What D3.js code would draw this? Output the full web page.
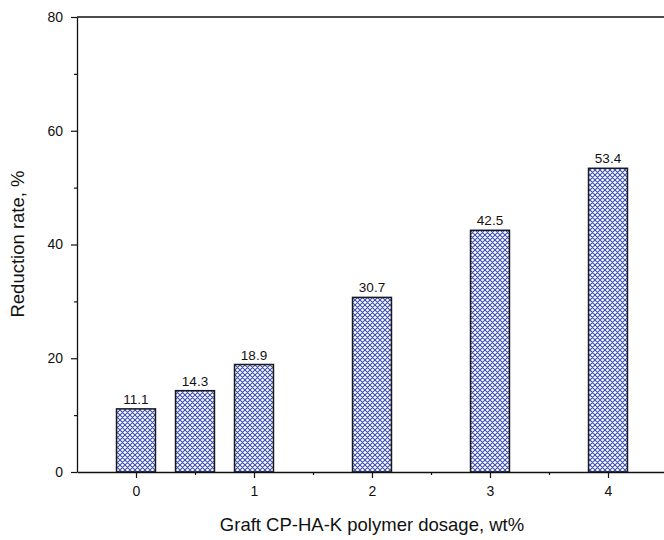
<!DOCTYPE html>
<html>
<head>
<meta charset="utf-8">
<script src="https://cdn.jsdelivr.net/npm/d3@7"></script>
<style>
  html, body { margin: 0; padding: 0; background: #fff; }
  svg { display: block; font-family: "Liberation Sans", Arial, sans-serif; }
</style>
</head>
<body>
<svg id="chart" width="664" height="540"></svg>
<script>
// Polymer dosage (wt%) and measured reduction rate (%)
const dosages = [0, 0.5, 1, 2, 3, 4];
const reductionRates = [11.1, 14.3, 18.9, 30.7, 42.5, 53.4];
const rateLabels = ["11.1", "14.3", "18.9", "30.7", "42.5", "53.4"];
const xTicks = [0, 1, 2, 3, 4];
const xMinorTicks = [0.5, 1.5, 2.5, 3.5];
const yTicks = [0, 20, 40, 60, 80];
const yMinorTicks = [10, 30, 50, 70];

const svg = d3.select("#chart");

const x = d3.scaleLinear().domain([-0.5, 4.5]).range([77, 667]);
const y = d3.scaleLinear().domain([0, 80]).range([472, 17]);
const barWidth = 0.33; // in dosage units

// Blue cross-hatch fill
const defs = svg.append("defs");
const pat = defs.append("pattern")
  .attr("id", "hatch")
  .attr("patternUnits", "userSpaceOnUse")
  .attr("width", 5).attr("height", 5);
pat.append("rect").attr("width", 5).attr("height", 5).attr("fill", "#ffffff");
pat.append("path")
  .attr("d", "M-1,1 L1,-1 M0,5 L5,0 M4,6 L6,4 M-1,4 L1,6 M0,0 L5,5 M4,-1 L6,1")
  .attr("stroke", "#3b4fb2").attr("stroke-width", 1.1);

// Bars
svg.append("g").selectAll("rect")
  .data(dosages)
  .join("rect")
  .attr("x", (d) => x(d - barWidth / 2))
  .attr("y", (d, i) => y(reductionRates[i]))
  .attr("width", x(barWidth) - x(0))
  .attr("height", (d, i) => y(0) - y(reductionRates[i]))
  .attr("fill", "url(#hatch)")
  .attr("stroke", "#1a1a1a")
  .attr("stroke-width", 1.5);

// Value labels above bars
svg.append("g").selectAll("text")
  .data(dosages)
  .join("text")
  .attr("x", (d) => x(d))
  .attr("y", (d, i) => y(reductionRates[i]) - 5)
  .attr("text-anchor", "middle")
  .attr("font-size", 13.5)
  .attr("fill", "#111")
  .text((d, i) => rateLabels[i]);

// Top frame line
svg.append("line")
  .attr("x1", x(-0.5)).attr("x2", 664)
  .attr("y1", y(80)).attr("y2", y(80))
  .attr("stroke", "#111").attr("stroke-width", 1.3);

// X axis
svg.append("g").attr("transform", `translate(0,${y(0)})`)
  .call(d3.axisBottom(x).tickValues(xTicks).tickFormat(d3.format("d")).tickSize(6).tickPadding(8).tickSizeOuter(0));
svg.append("g").attr("transform", `translate(0,${y(0)})`)
  .call(d3.axisBottom(x).tickValues(xMinorTicks).tickFormat("").tickSize(3).tickSizeOuter(0))
  .select(".domain").remove();

// Y axis
svg.append("g").attr("transform", `translate(${x(-0.5)},0)`)
  .call(d3.axisLeft(y).tickValues(yTicks).tickSize(6).tickPadding(8).tickSizeOuter(0));
svg.append("g").attr("transform", `translate(${x(-0.5)},0)`)
  .call(d3.axisLeft(y).tickValues(yMinorTicks).tickFormat("").tickSize(3).tickSizeOuter(0))
  .select(".domain").remove();

svg.selectAll(".domain").attr("stroke", "#111").attr("stroke-width", 1.3);
svg.selectAll(".tick line").attr("stroke", "#111").attr("stroke-width", 1.2);
svg.selectAll(".tick text")
  .attr("fill", "#111")
  .style("font-size", "14px")
  .style("font-family", "Liberation Sans, Arial, sans-serif");

// Axis titles
svg.append("text")
  .attr("x", 372).attr("y", 531)
  .attr("text-anchor", "middle")
  .attr("font-size", 18.5)
  .attr("fill", "#111")
  .text("Graft CP-HA-K polymer dosage, wt%");

svg.append("text")
  .attr("transform", `translate(24,${244}) rotate(-90)`)
  .attr("text-anchor", "middle")
  .attr("font-size", 18.5)
  .attr("fill", "#111")
  .text("Reduction rate, %");
</script>
</body>
</html>
